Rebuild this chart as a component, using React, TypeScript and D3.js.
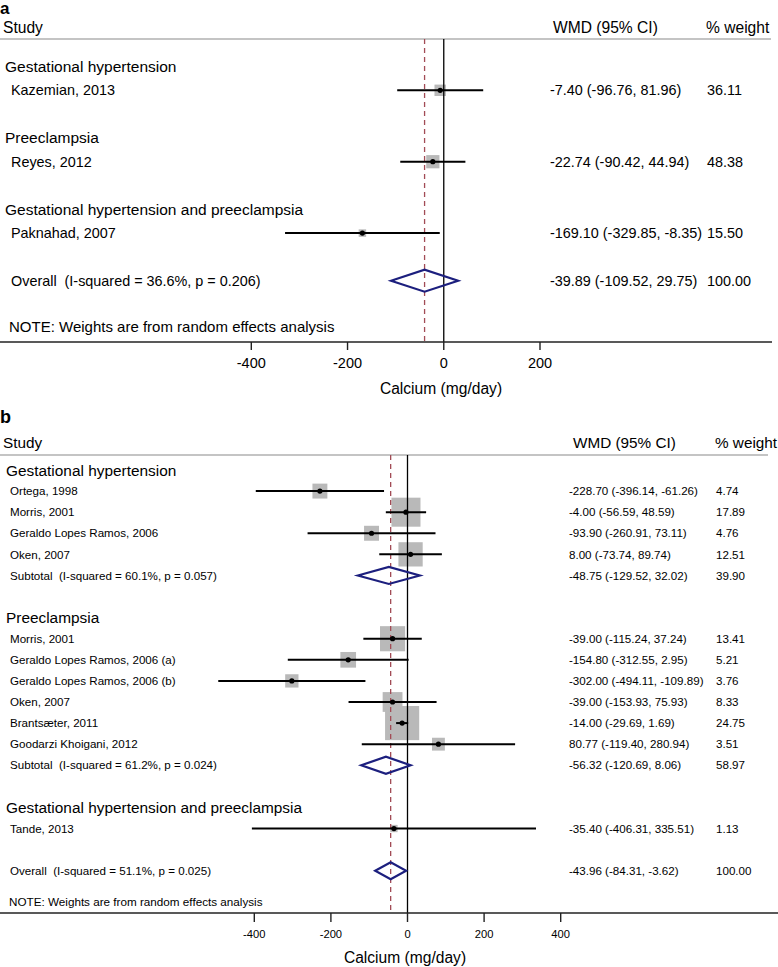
import React from "react";
import * as d3 from "d3";

// ---------- Panel a data ----------
const aGroups = ["Gestational hypertension", "Preeclampsia", "Gestational hypertension and preeclampsia"];
const aStudies = ["Kazemian, 2013", "Reyes, 2012", "Paknahad, 2007"];
const aStudyGroup = [0, 1, 2];
const aEst = [-7.4, -22.74, -169.1];
const aLow = [-96.76, -90.42, -329.85];
const aHigh = [81.96, 44.94, -8.35];
const aWeight = [36.11, 48.38, 15.5];
const aSubLabels: (string | null)[] = [null, null, null];
const aSubEst: number[] = [];
const aSubLow: number[] = [];
const aSubHigh: number[] = [];
const aSubWeight: number[] = [];
const aOverallLabel = "Overall  (I-squared = 36.6%, p = 0.206)";
const aOverall = [-39.89, -109.52, 29.75, 100.0];
const aTicks = [-400, -200, 0, 200];

// ---------- Panel b data ----------
const bGroups = ["Gestational hypertension", "Preeclampsia", "Gestational hypertension and preeclampsia"];
const bStudies = [
  "Ortega, 1998",
  "Morris, 2001",
  "Geraldo Lopes Ramos, 2006",
  "Oken, 2007",
  "Morris, 2001",
  "Geraldo Lopes Ramos, 2006 (a)",
  "Geraldo Lopes Ramos, 2006 (b)",
  "Oken, 2007",
  "Brantsæter, 2011",
  "Goodarzi Khoigani, 2012",
  "Tande, 2013",
];
const bStudyGroup = [0, 0, 0, 0, 1, 1, 1, 1, 1, 1, 2];
const bEst = [-228.7, -4.0, -93.9, 8.0, -39.0, -154.8, -302.0, -39.0, -14.0, 80.77, -35.4];
const bLow = [-396.14, -56.59, -260.91, -73.74, -115.24, -312.55, -494.11, -153.93, -29.69, -119.4, -406.31];
const bHigh = [-61.26, 48.59, 73.11, 89.74, 37.24, 2.95, -109.89, 75.93, 1.69, 280.94, 335.51];
const bWeight = [4.74, 17.89, 4.76, 12.51, 13.41, 5.21, 3.76, 8.33, 24.75, 3.51, 1.13];
const bSubLabels: (string | null)[] = [
  "Subtotal  (I-squared = 60.1%, p = 0.057)",
  "Subtotal  (I-squared = 61.2%, p = 0.024)",
  null,
];
const bSubEst = [-48.75, -56.32];
const bSubLow = [-129.52, -120.69];
const bSubHigh = [32.02, 8.06];
const bSubWeight = [39.9, 58.97];
const bOverallLabel = "Overall  (I-squared = 51.1%, p = 0.025)";
const bOverall = [-43.96, -84.31, -3.62, 100.0];
const bTicks = [-400, -200, 0, 200, 400];

const noteText = "NOTE: Weights are from random effects analysis";
const xTitle = "Calcium (mg/day)";

type Row = {
  kind: "group" | "study" | "subtotal" | "overall";
  label: string;
  est?: number;
  lo?: number;
  hi?: number;
  w?: number;
};

function buildRows(
  groups: string[],
  studies: string[],
  studyGroup: number[],
  est: number[],
  lo: number[],
  hi: number[],
  wt: number[],
  subLabels: (string | null)[],
  subEst: number[],
  subLo: number[],
  subHi: number[],
  subW: number[],
  overallLabel: string,
  overall: number[]
): (Row | null)[] {
  const rows: (Row | null)[] = [];
  groups.forEach((g, gi) => {
    rows.push({ kind: "group", label: g });
    studies.forEach((s, si) => {
      if (studyGroup[si] === gi)
        rows.push({ kind: "study", label: s, est: est[si], lo: lo[si], hi: hi[si], w: wt[si] });
    });
    if (subLabels[gi])
      rows.push({
        kind: "subtotal",
        label: subLabels[gi] as string,
        est: subEst[gi],
        lo: subLo[gi],
        hi: subHi[gi],
        w: subW[gi],
      });
    rows.push(null);
  });
  rows.push({ kind: "overall", label: overallLabel, est: overall[0], lo: overall[1], hi: overall[2], w: overall[3] });
  return rows;
}

const fmt = (v: number) => v.toFixed(2);

type Layout = {
  letter: string;
  letterY: number;
  letterFs: number;
  studyHeadY: number;
  headFs: number;
  headLineY: number;
  row0: number;
  rowStep: number;
  groupFs: number;
  rowFs: number;
  groupX: number;
  studyX: number;
  wmdHeadX: number;
  wtHeadX: number;
  wmdX: number;
  wtX: number;
  domain: [number, number];
  range: [number, number];
  axisY: number;
  tickLen: number;
  tickLabelY: number;
  tickFs: number;
  titleX: number;
  titleY: number;
  titleFs: number;
  noteY: number;
  noteFs: number;
  boxK: number;
  diamondH: number;
  dotR: number;
  axisRight: number;
  headLineRight: number;
};

const FONT = "'Liberation Sans', Arial, sans-serif";
const BOX = "#b9b9b9";
const NAVY = "#1c1f7e";
const DASH = "#a24b55";

function Panel({ rows, ticks, L, overallEst }: { rows: (Row | null)[]; ticks: number[]; L: Layout; overallEst: number }) {
  const x = d3.scaleLinear().domain(L.domain).range(L.range);
  const y = d3.scaleLinear().domain([0, 1]).range([L.row0, L.row0 + L.rowStep]);
  const base = (c: number, fs: number) => c + fs * 0.36;

  const items = rows
    .map((r, i) => ({ r, i }))
    .filter((d) => d.r !== null) as { r: Row; i: number }[];

  return (
    <g fontFamily={FONT} fill="#000" style={{ whiteSpace: "pre" }}>
      <text x={0} y={L.letterY} fontSize={L.letterFs} fontWeight="bold">
        {L.letter}
      </text>
      <text x={3} y={base(L.studyHeadY, L.headFs)} fontSize={L.headFs}>
        Study
      </text>
      <text x={L.wmdHeadX} y={base(L.studyHeadY, L.headFs)} fontSize={L.headFs}>
        WMD (95% CI)
      </text>
      <text x={L.wtHeadX} y={base(L.studyHeadY, L.headFs)} fontSize={L.headFs}>
        % weight
      </text>
      <line x1={0} x2={L.headLineRight} y1={L.headLineY} y2={L.headLineY} stroke="#c4c4c4" strokeWidth={2} />

      {/* boxes */}
      {items
        .filter((d) => d.r.kind === "study")
        .map((d) => {
          const s = L.boxK * Math.sqrt(d.r.w as number);
          return (
            <rect
              key={"b" + d.i}
              x={x(d.r.est as number) - s / 2}
              y={y(d.i) - s / 2}
              width={s}
              height={s}
              fill={BOX}
            />
          );
        })}

      {/* reference lines */}
      <line x1={x(0)} x2={x(0)} y1={L.headLineY} y2={L.axisY} stroke="#000" strokeWidth={1.3} />
      <line
        x1={x(overallEst)}
        x2={x(overallEst)}
        y1={L.headLineY}
        y2={L.axisY}
        stroke={DASH}
        strokeWidth={1.3}
        strokeDasharray="5,4"
      />

      {items.map((d) => {
        const r = d.r;
        const cy = y(d.i);
        if (r.kind === "group") {
          return (
            <text key={"t" + d.i} x={L.groupX} y={base(cy, L.groupFs)} fontSize={L.groupFs}>
              {r.label}
            </text>
          );
        }
        const est = r.est as number;
        const lo = r.lo as number;
        const hi = r.hi as number;
        const texts = (
          <>
            <text x={L.studyX} y={base(cy, L.rowFs)} fontSize={L.rowFs} xmlSpace="preserve">
              {r.label}
            </text>
            <text x={L.wmdX} y={base(cy, L.rowFs)} fontSize={L.rowFs}>
              {`${fmt(est)} (${fmt(lo)}, ${fmt(hi)})`}
            </text>
            <text x={L.wtX} y={base(cy, L.rowFs)} fontSize={L.rowFs}>
              {fmt(r.w as number)}
            </text>
          </>
        );
        if (r.kind === "study") {
          return (
            <g key={"r" + d.i}>
              <line x1={x(lo)} x2={x(hi)} y1={cy} y2={cy} stroke="#000" strokeWidth={2} />
              <circle cx={x(est)} cy={cy} r={L.dotR} fill="#000" />
              {texts}
            </g>
          );
        }
        const h = L.diamondH / 2;
        const p = d3.path();
        p.moveTo(x(lo), cy);
        p.lineTo(x(est), cy - h);
        p.lineTo(x(hi), cy);
        p.lineTo(x(est), cy + h);
        p.closePath();
        return (
          <g key={"r" + d.i}>
            <path d={p.toString()} fill="none" stroke={NAVY} strokeWidth={2.2} strokeLinejoin="miter" />
            {texts}
          </g>
        );
      })}

      <text x={9} y={base(L.noteY, L.noteFs)} fontSize={L.noteFs}>
        {noteText}
      </text>

      {/* axis */}
      <line x1={0} x2={L.axisRight} y1={L.axisY} y2={L.axisY} stroke="#222" strokeWidth={1.6} />
      {ticks.map((t) => (
        <g key={"tk" + t}>
          <line x1={x(t)} x2={x(t)} y1={L.axisY} y2={L.axisY + L.tickLen} stroke="#222" strokeWidth={1.4} />
          <text x={x(t)} y={base(L.tickLabelY, L.tickFs)} fontSize={L.tickFs} textAnchor="middle">
            {String(t)}
          </text>
        </g>
      ))}
      <text x={L.titleX} y={base(L.titleY, L.titleFs)} fontSize={L.titleFs} textAnchor="middle">
        {xTitle}
      </text>
    </g>
  );
}

const layoutA: Layout = {
  letter: "a",
  letterY: 14,
  letterFs: 17,
  studyHeadY: 27,
  headFs: 15.6,
  headLineY: 39,
  row0: 66.5,
  rowStep: 23.8,
  groupFs: 15.5,
  rowFs: 14.4,
  groupX: 5,
  studyX: 11,
  wmdHeadX: 553,
  wtHeadX: 706,
  wmdX: 550,
  wtX: 707,
  domain: [-400, 200],
  range: [251.3, 540],
  axisY: 342,
  tickLen: 8,
  tickLabelY: 363,
  tickFs: 14.5,
  titleX: 441,
  titleY: 388,
  titleFs: 15.6,
  noteY: 327,
  noteFs: 15,
  boxK: 1.9,
  diamondH: 22,
  dotR: 2.6,
  axisRight: 772,
  headLineRight: 771,
};

const layoutB: Layout = {
  letter: "b",
  letterY: 423,
  letterFs: 18,
  studyHeadY: 442,
  headFs: 15.3,
  headLineY: 455,
  row0: 470,
  rowStep: 21.09,
  groupFs: 15.4,
  rowFs: 11.6,
  groupX: 6,
  studyX: 10,
  wmdHeadX: 573,
  wtHeadX: 715,
  wmdX: 569,
  wtX: 716,
  domain: [-400, 400],
  range: [254.3, 560.7],
  axisY: 913,
  tickLen: 9,
  tickLabelY: 934,
  tickFs: 11.2,
  titleX: 405,
  titleY: 957,
  titleFs: 15.6,
  noteY: 902,
  noteFs: 11.7,
  boxK: 6.86,
  diamondH: 17,
  dotR: 2.6,
  axisRight: 778,
  headLineRight: 768,
};

export default function App() {
  const rowsA = buildRows(
    aGroups, aStudies, aStudyGroup, aEst, aLow, aHigh, aWeight,
    aSubLabels, aSubEst, aSubLow, aSubHigh, aSubWeight, aOverallLabel, aOverall
  );
  const rowsB = buildRows(
    bGroups, bStudies, bStudyGroup, bEst, bLow, bHigh, bWeight,
    bSubLabels, bSubEst, bSubLow, bSubHigh, bSubWeight, bOverallLabel, bOverall
  );
  return (
    <svg
      width={778}
      height={967}
      style={{ position: "absolute", left: 0, top: 0, background: "#fff" }}
      xmlns="http://www.w3.org/2000/svg"
    >
      <rect width={778} height={967} fill="#fff" />
      <Panel rows={rowsA} ticks={aTicks} L={layoutA} overallEst={aOverall[0]} />
      <Panel rows={rowsB} ticks={bTicks} L={layoutB} overallEst={bOverall[0]} />
    </svg>
  );
}
